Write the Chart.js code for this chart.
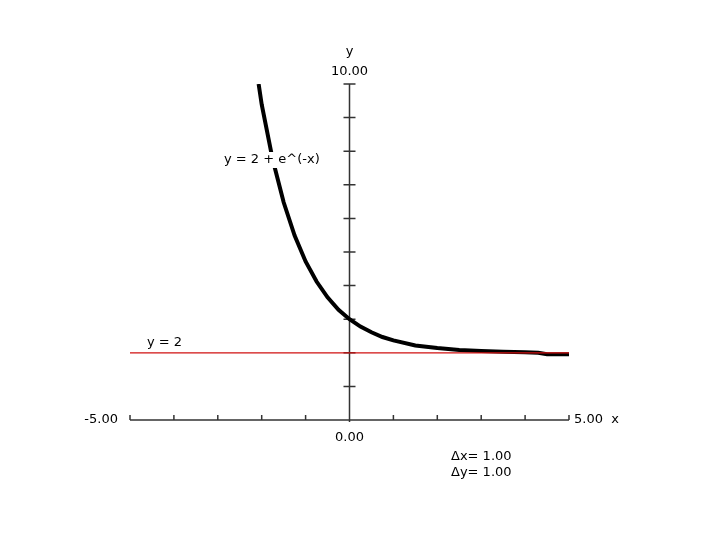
<!DOCTYPE html>
<html>
<head>
<meta charset="utf-8">
<script src="https://cdn.jsdelivr.net/npm/chart.js@4/dist/chart.umd.min.js"></script>
<style>
  html, body { margin: 0; padding: 0; background: #fff; }
  canvas { display: block; }
</style>
</head>
<body>
<canvas id="myChart" width="720" height="540"></canvas>
<script>
// valeurs
const curveX = [-2.07, -2, -1.75, -1.5, -1.25, -1, -0.75, -0.5, -0.25, 0, 0.25, 0.5, 0.75, 1, 1.5, 2, 2.5, 3, 3.5, 4, 4.3, 4.5, 5];
const curveY = [10.0, 9.39, 7.75, 6.48, 5.49, 4.72, 4.12, 3.65, 3.28, 3.0, 2.78, 2.61, 2.47, 2.37, 2.22, 2.14, 2.08, 2.05, 2.03, 2.02, 2.0, 1.96, 1.96];
const asymX = [-5, 5];
const asymY = [2, 2];
const xTicks = [-5, -4, -3, -2, -1, 0, 1, 2, 3, 4, 5];
const yTicks = [1, 2, 3, 4, 5, 6, 7, 8, 9, 10];
const xMinLabel = "-5.00", xMaxLabel = "5.00", originLabel = "0.00", yMaxLabel = "10.00";
const curveLabel = "y = 2 + e^(-x)";
const asymLabel = "y = 2";
const stepLabels = ["\u0394x= 1.00", "\u0394y= 1.00"];

const FONT = '13px "DejaVu Sans", Verdana, sans-serif';

const axesPlugin = {
    id: "axes",
    beforeDatasetsDraw(chart) {
        const ctx = chart.ctx;
        const xs = chart.scales.x, ys = chart.scales.y;
        const x0 = xs.getPixelForValue(0), y0 = ys.getPixelForValue(0);
        ctx.save();
        ctx.strokeStyle = "#333";
        ctx.lineWidth = 1.5;
        ctx.beginPath();
        ctx.moveTo(xs.getPixelForValue(-5), y0);
        ctx.lineTo(xs.getPixelForValue(5), y0);
        ctx.moveTo(x0, ys.getPixelForValue(10));
        ctx.lineTo(x0, y0);
        xTicks.forEach(t => {
            const px = xs.getPixelForValue(t);
            ctx.moveTo(px, y0 - 5);
            ctx.lineTo(px, y0 + (t === 0 ? 2 : 0));
        });
        yTicks.forEach(t => {
            const py = ys.getPixelForValue(t);
            ctx.moveTo(x0 - 6, py);
            ctx.lineTo(x0 + 6, py);
        });
        ctx.stroke();
        ctx.restore();
    },
    afterDatasetsDraw(chart) {
        const ctx = chart.ctx;
        const xs = chart.scales.x, ys = chart.scales.y;
        const x0 = xs.getPixelForValue(0), y0 = ys.getPixelForValue(0);
        ctx.save();
        ctx.font = FONT;
        ctx.fillStyle = "#000";
        ctx.textBaseline = "middle";

        ctx.textAlign = "center";
        ctx.fillText("y", x0, 52);
        ctx.fillText(yMaxLabel, x0, 72);
        ctx.fillText(originLabel, x0, 438);

        ctx.textAlign = "right";
        ctx.fillText(xMinLabel, xs.getPixelForValue(-5) - 12, y0);
        ctx.textAlign = "left";
        ctx.fillText(xMaxLabel + "  x", xs.getPixelForValue(5) + 5, y0);

        // étiquette de la courbe avec fond blanc
        const w = ctx.measureText(curveLabel).width;
        ctx.fillStyle = "#fff";
        ctx.fillRect(223, 152, w + 2, 16);
        ctx.fillStyle = "#000";
        ctx.fillText(curveLabel, 224, 160);

        ctx.fillText(asymLabel, 147, 343);

        ctx.fillText(stepLabels[0], 451, 457);
        ctx.fillText(stepLabels[1], 451, 473);
        ctx.restore();
    }
};

const ctx = document.getElementById("myChart").getContext("2d");
new Chart(ctx, {
    type: "scatter",
    data: {
        datasets: [
            {
                label: asymLabel,
                data: asymX.map((x, i) => ({ x: x, y: asymY[i] })),
                showLine: true,
                borderColor: "#d01010",
                borderWidth: 1.2,
                pointRadius: 0,
                order: 0
            },
            {
                label: curveLabel,
                data: curveX.map((x, i) => ({ x: x, y: curveY[i] })),
                showLine: true,
                borderColor: "#000",
                borderWidth: 4,
                pointRadius: 0,
                tension: 0,
                order: 1
            }
        ]
    },
    options: {
        responsive: false,
        animation: false,
        layout: { padding: { left: 130, right: 151, top: 84, bottom: 120 } },
        plugins: { legend: { display: false }, tooltip: { enabled: false } },
        scales: {
            x: { type: "linear", min: -5, max: 5, display: false },
            y: { type: "linear", min: 0, max: 10, display: false }
        }
    },
    plugins: [axesPlugin]
});
</script>
</body>
</html>
